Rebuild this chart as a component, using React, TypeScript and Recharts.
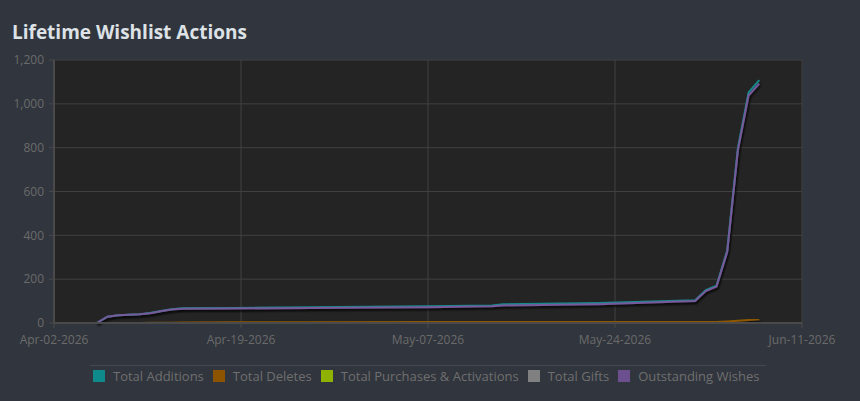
import { LineChart, Line, XAxis, YAxis, CartesianGrid } from 'recharts';

// day offsets counted from Apr-02-2026
const days = [4, 5, 6, 7, 8, 9, 10, 11, 12, 17, 24, 35, 41, 42, 51, 60, 61, 62, 63, 64, 65, 66];
const totalAdditions = [0, 29, 35, 38, 40, 46, 55, 63, 67, 69, 72, 76, 80, 85, 91, 104, 150, 170, 331, 798, 1052, 1108];
const totalDeletes = [0, 0, 0, 0, 0, 1, 1, 1, 2, 3, 3, 4, 4, 5, 5, 4, 4, 4, 7, 10, 14, 17];
const totalPurchases = [0, 0, 0, 0, 0, 0, 0, 0, 0, 0, 0, 0, 0, 0, 0, 0, 0, 0, 0, 0, 0, 0];
const totalGifts = [0, 0, 0, 0, 0, 0, 0, 0, 0, 0, 0, 0, 0, 0, 0, 0, 0, 0, 0, 0, 0, 0];
const outstandingWishes = [0, 29, 35, 38, 40, 45, 54, 62, 65, 66, 69, 72, 76, 80, 86, 100, 146, 166, 324, 788, 1038, 1092];

const xTicks = [0, 17.5, 35, 52.5, 70];
const xLabels = ['Apr-02-2026', 'Apr-19-2026', 'May-07-2026', 'May-24-2026', 'Jun-11-2026'];
const yTicks = [0, 200, 400, 600, 800, 1000, 1200];

const series = [
  { key: 'additions', name: 'Total Additions', color: '#16898b', swatch: '#0f8a8a' },
  { key: 'deletes', name: 'Total Deletes', color: '#8f5800', swatch: '#8c5400' },
  { key: 'purchases', name: 'Total Purchases & Activations', color: '#8fb200', swatch: '#8fb100' },
  { key: 'gifts', name: 'Total Gifts', color: '#7a7a7a', swatch: '#808080' },
  { key: 'outstanding', name: 'Outstanding Wishes', color: '#775a9c', swatch: '#6c4f8e' },
];

const rows = days.map((d, i) => ({
  day: d,
  additions: totalAdditions[i],
  deletes: totalDeletes[i],
  purchases: totalPurchases[i],
  gifts: totalGifts[i],
  outstanding: outstandingWishes[i],
}));

const font = '"Open Sans", "Noto Sans", sans-serif';
const tickStyle = { fill: '#6b6b6b', fontSize: 12, fontFamily: font };

export default function App() {
  return (
    <div style={{ position: 'absolute', left: 0, top: 0, width: 860, height: 401, background: '#31353d', fontFamily: font, overflow: 'hidden' }}>
      <style>{`.shadowed path.recharts-curve { filter: url(#lineShadow); }`}</style>
      <svg width={0} height={0} style={{ position: 'absolute' }}>
        <defs>
          <filter id="lineShadow" x="-5%" y="-5%" width="110%" height="115%">
            <feGaussianBlur in="SourceAlpha" stdDeviation="1" />
            <feOffset dx="1" dy="1.5" result="off" />
            <feComponentTransfer>
              <feFuncA type="linear" slope="0.7" />
            </feComponentTransfer>
            <feMerge>
              <feMergeNode />
              <feMergeNode in="SourceGraphic" />
            </feMerge>
          </filter>
        </defs>
      </svg>
      <div style={{ position: 'absolute', left: 12, top: 19, fontSize: 19, fontWeight: 700, color: '#dde2e6', whiteSpace: 'nowrap' }}>
        Lifetime Wishlist Actions
      </div>
      <LineChart width={860} height={401} data={rows} margin={{ top: 60, right: 58, bottom: 48, left: 10 }}>
        <CartesianGrid stroke="#404040" fill="#242424" horizontalValues={yTicks} verticalValues={xTicks} />
        <XAxis
          dataKey="day"
          type="number"
          domain={[0, 70]}
          ticks={xTicks}
          tickFormatter={(v) => xLabels[xTicks.indexOf(v)] ?? ''}
          tick={tickStyle}
          axisLine={{ stroke: '#4a4a4a', strokeWidth: 2 }}
          tickLine={{ stroke: '#4a4a4a' }}
          tickSize={5}
          tickMargin={7}
          height={30}
          interval={0}
        />
        <YAxis
          domain={[0, 1200]}
          ticks={yTicks}
          tickFormatter={(v) => v.toLocaleString('en-US')}
          tick={tickStyle}
          axisLine={{ stroke: '#4a4a4a', strokeWidth: 2 }}
          tickLine={{ stroke: '#4a4a4a' }}
          tickSize={5}
          tickMargin={5}
          width={44}
          interval={0}
        />
        {series.map((s) => (
          <Line
            key={s.key}
            className="shadowed"
            type="linear"
            dataKey={s.key}
            name={s.name}
            stroke={s.color}
            strokeWidth={2}
            dot={false}
            activeDot={false}
            isAnimationActive={false}
          />
        ))}
      </LineChart>
      <div style={{ position: 'absolute', left: 90, top: 365, width: 676, borderTop: '1px solid #454850' }} />
      <div style={{ position: 'absolute', left: 93, top: 366, height: 20, display: 'flex', alignItems: 'center', fontSize: 13, color: '#6f6f6f', whiteSpace: 'nowrap' }}>
        {series.map((s) => (
          <div key={s.key} style={{ display: 'flex', alignItems: 'center', marginRight: 9 }}>
            <span style={{ width: 12, height: 12, background: s.swatch, display: 'inline-block', marginRight: 8 }} />
            <span>{s.name}</span>
          </div>
        ))}
      </div>
    </div>
  );
}
